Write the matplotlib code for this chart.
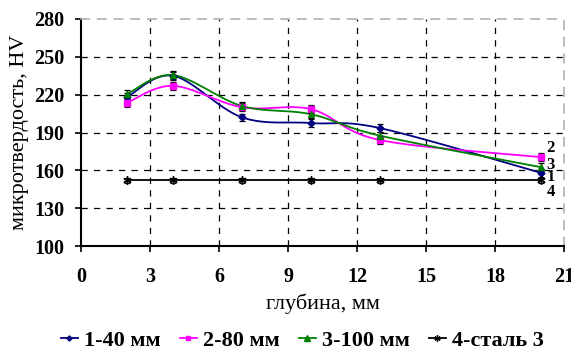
import numpy as np
import matplotlib
matplotlib.use("Agg")
import matplotlib.pyplot as plt
from matplotlib.lines import Line2D

plt.rcParams['font.family'] = ['Liberation Serif', 'DejaVu Serif']

depth = [2, 4, 7, 10, 13, 20]
s1 = [218, 235, 202, 197.5, 193.5, 158]
s2 = [213.5, 227, 210, 208.5, 184, 170.5]
s3 = [220.5, 235.5, 211, 204.5, 187.5, 162.5]
s4 = [152, 152, 152, 152, 152, 152]
err = [3, 3, 3, 3, 3, 3]
err4 = [2, 2, 2, 2, 2, 2]
names = ['1-40 мм', '2-80 мм', '3-100 мм', '4-сталь 3']
end_labels = ['2', '3', '1', '4']
end_label_y = [177.5, 164, 155, 142.5]
colors = ['#000080', '#FF00FF', '#008000', '#000000']
markers = ['D', 's', '^', (6, 2, 0)]
msizes = [3.5, 4.5, 5, 6]
xticks = [0, 3, 6, 9, 12, 15, 18, 21]
yticks = [100, 130, 160, 190, 220, 250, 280]


def smooth(x, y, n=40):
    # Excel-style smoothed line (Bezier through points)
    x = np.asarray(x, float); y = np.asarray(y, float)
    P = np.column_stack([x, y])
    P = np.vstack([P[0], P, P[-1]])
    out = []
    t = np.linspace(0, 1, n)
    for i in range(1, len(P) - 2):
        p0, p1, p2, p3 = P[i - 1], P[i], P[i + 1], P[i + 2]
        c1 = p1 + (p2 - p0) / 6
        c2 = p2 - (p3 - p1) / 6
        seg = ((1 - t) ** 3)[:, None] * p1 + (3 * (1 - t) ** 2 * t)[:, None] * c1 \
            + (3 * (1 - t) * t ** 2)[:, None] * c2 + (t ** 3)[:, None] * p2
        out.append(seg)
    out = np.vstack(out)
    return out[:, 0], out[:, 1]


fig = plt.figure(figsize=(5.71, 3.55), dpi=100)
ax = fig.add_axes([0.1419, 0.307, 0.8458, 0.6395])

series = [s1, s2, s3, s4]
errs = [err, err, err, err4]
for s, e, c, m, ms in zip(series, errs, colors, markers, msizes):
    xs, ys = smooth(depth, s)
    ax.plot(xs, ys, color=c, lw=1.3, zorder=3)
    ax.errorbar(depth, s, yerr=e, fmt='none', ecolor='black', elinewidth=0.9,
                capsize=2.5, capthick=0.9, zorder=4)
    ax.plot(depth, s, linestyle='none', marker=m, color=c, markersize=ms,
            markeredgewidth=1.0, zorder=5)

ax.set_xlim(0, 21)
ax.set_ylim(100, 280)
ax.set_xticks(xticks)
ax.set_yticks(yticks)
ax.tick_params(axis='both', direction='out', length=4, width=1.2, labelsize=14.5)
ax.tick_params(axis='x', pad=11)
ax.tick_params(axis='y', pad=8)
for lab in ax.get_xticklabels() + ax.get_yticklabels():
    lab.set_fontweight('bold')

for v in xticks[1:-1]:
    ax.axvline(v, color='black', lw=0.9, ls=(0, (5, 5)), zorder=1)
for v in yticks[1:-1]:
    ax.axhline(v, color='black', lw=0.9, ls=(0, (5, 5)), zorder=1)

ax.spines['left'].set_linewidth(1.5)
ax.spines['bottom'].set_linewidth(1.5)
for sp in ['top', 'right']:
    ax.spines[sp].set_color('#b0b0b0')
    ax.spines[sp].set_linestyle((0, (5, 5)))
    ax.spines[sp].set_linewidth(1.2)

ax.set_xlabel('глубина, мм', fontsize=16, labelpad=5)
ax.set_ylabel('микротвердость, HV', fontsize=16, labelpad=4)

for t, yv in zip(end_labels, end_label_y):
    ax.text(20.25, yv, t, fontsize=12, fontweight='bold',
            ha='left', va='center')

handles = [Line2D([], [], color=c, marker=m, markersize=ms * 0.75, lw=1.3)
           for c, m, ms in zip(colors, markers, msizes)]
fig.legend(handles, names, loc='lower center', bbox_to_anchor=(0.53, -0.045), ncol=4,
           frameon=False, handlelength=0.75, handletextpad=0.3, columnspacing=0.85,
           prop={'weight': 'bold', 'size': 16})

fig.savefig('out.png', dpi=100)
